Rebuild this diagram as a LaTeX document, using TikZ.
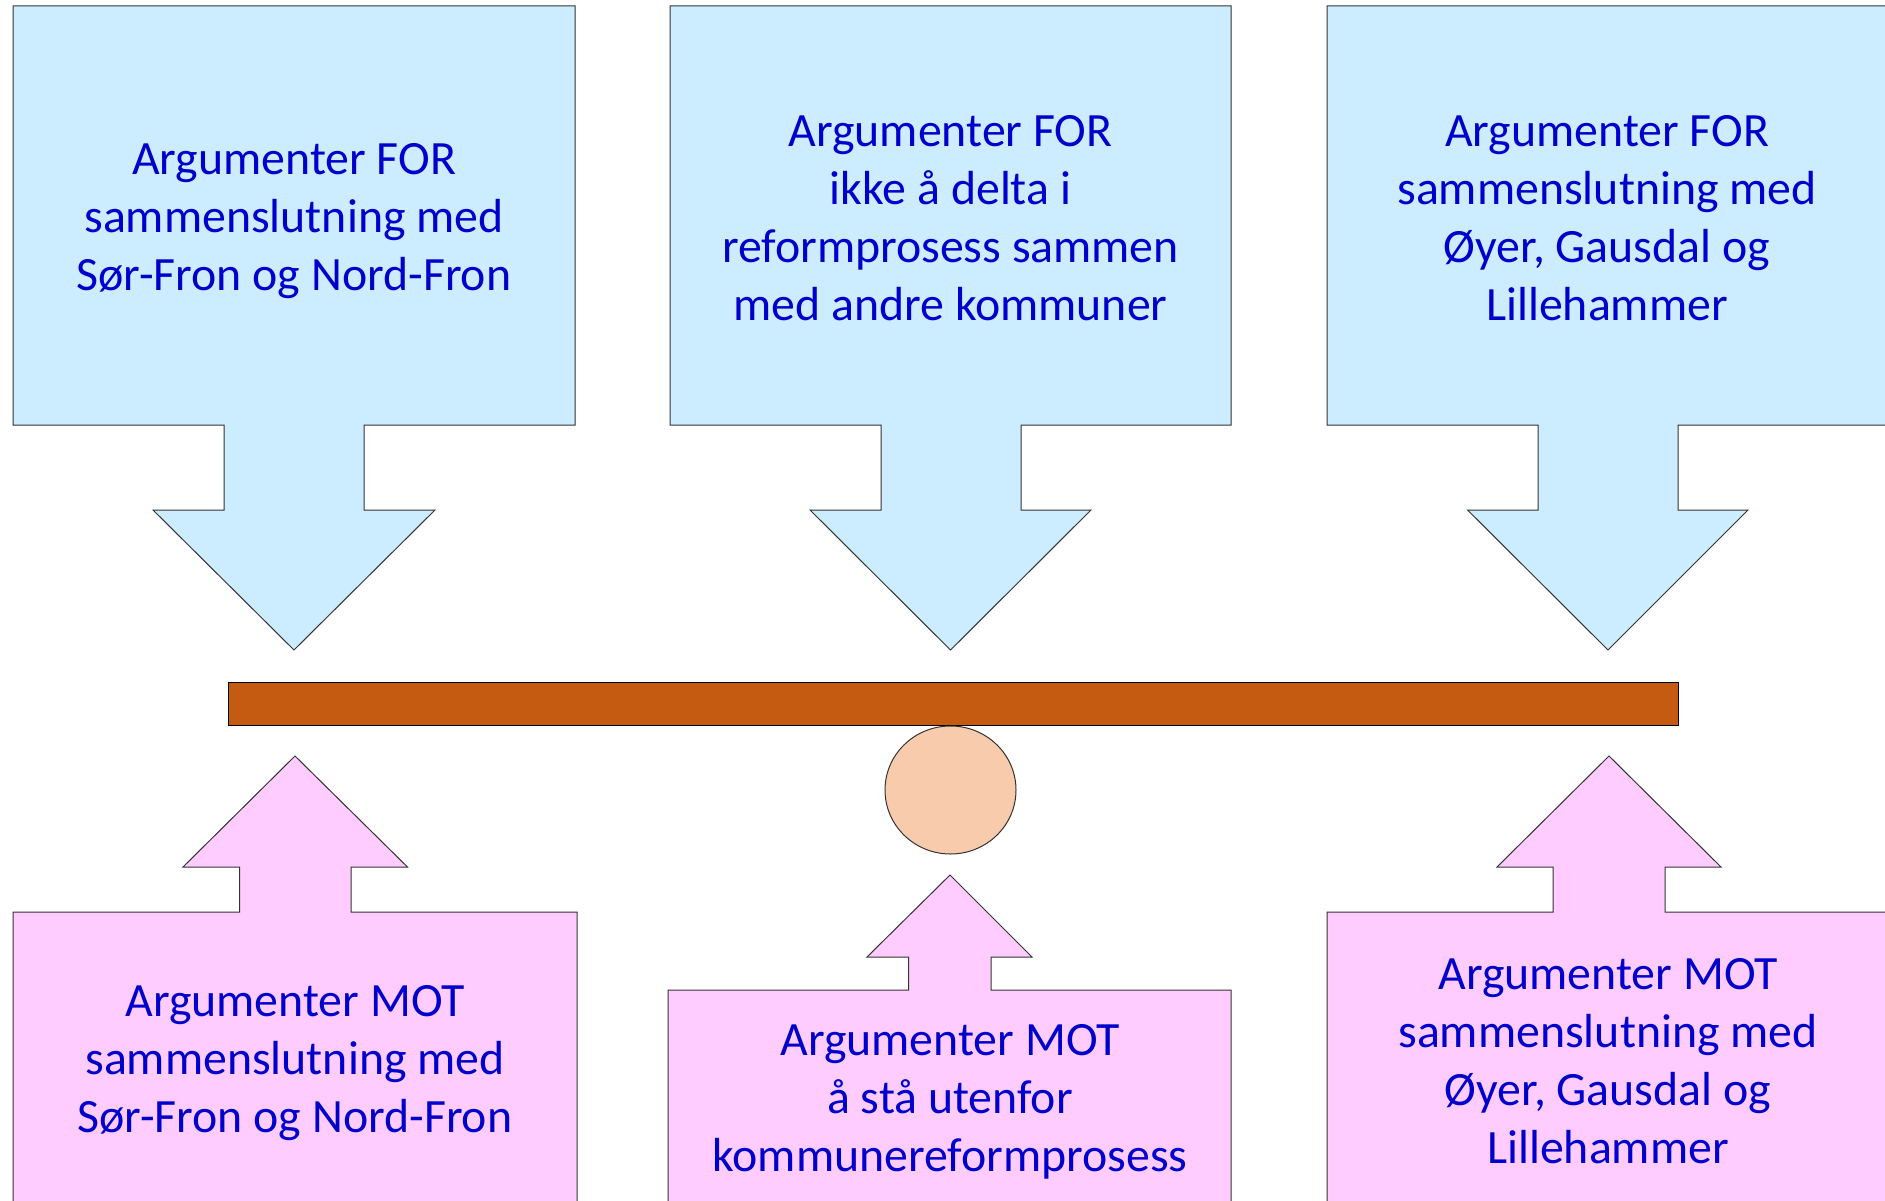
\documentclass[tikz,border=0pt]{standalone}
\usepackage{fontspec}
\setmainfont{Carlito}
\usetikzlibrary{shapes.geometric}
\definecolor{forfill}{HTML}{CCECFF}
\definecolor{motfill}{HTML}{FFCCFF}
\definecolor{barfill}{HTML}{C55A11}
\definecolor{ballfill}{HTML}{F8CBAD}
\definecolor{txt}{HTML}{0000CC}
\definecolor{edge}{HTML}{333333}
\tikzset{
  forshape/.style={fill=forfill,draw=edge,line width=1pt,line join=miter},
  motshape/.style={fill=motfill,draw=edge,line width=1pt,line join=miter},
  lbl/.style={align=center,text=txt,inner sep=0pt,font=\fontsize{47.8}{58}\selectfont}
}
\begin{document}
\begin{tikzpicture}[x=1pt,y=-1pt]
\useasboundingbox (0,0) rectangle (1885,1201);
% top callouts (FOR)
\draw[forshape] (13,6) -- (575,6) -- (575,425) -- (364,425) -- (364,510) -- (435,510) -- (294,650) -- (153,510) -- (224,510) -- (224,425) -- (13,425) -- cycle;
\draw[forshape] (670,6) -- (1231,6) -- (1231,425) -- (1021,425) -- (1021,510) -- (1091,510) -- (950.5,650) -- (810,510) -- (881,510) -- (881,425) -- (670,425) -- cycle;
\draw[forshape] (1327,6) -- (1889,6) -- (1889,425) -- (1678,425) -- (1678,510) -- (1748,510) -- (1608,650) -- (1467.5,510) -- (1538,510) -- (1538,425) -- (1327,425) -- cycle;
% bottom callouts (MOT)
\draw[motshape] (13,1210) -- (13,912) -- (239.5,912) -- (239.5,867) -- (183,867) -- (295,756) -- (407.5,867) -- (351,867) -- (351,912) -- (577,912) -- (577,1210);
\draw[motshape] (668,1210) -- (668,990) -- (908.5,990) -- (908.5,957) -- (867,957) -- (950,875) -- (1032,957) -- (991,957) -- (991,990) -- (1231,990) -- (1231,1210);
\draw[motshape] (1327,1210) -- (1327,912) -- (1553,912) -- (1553,867) -- (1497,867) -- (1609,756) -- (1721,867) -- (1665,867) -- (1665,912) -- (1889,912) -- (1889,1210);
% seesaw
\node[draw=black,fill=barfill,line width=1pt,minimum width=1450pt,minimum height=43pt,inner sep=0pt] (bar) at (953,703.5) {};
\node[draw=edge,fill=ballfill,line width=1pt,ellipse,minimum width=131pt,minimum height=128pt,inner sep=0pt] (ball) at (950.5,790) {};
% labels
\node[lbl] (t1) at (294,221) {Argumenter FOR\\sammenslutning med\\Sør-Fron og Nord-Fron};
\node[lbl] (t2) at (950.5,218.5) {Argumenter FOR\\ikke å delta i\\reformprosess sammen\\med andre kommuner};
\node[lbl] (t3) at (1607,218.5) {Argumenter FOR\\sammenslutning med\\Øyer, Gausdal og\\Lillehammer};
\node[lbl] (b1) at (295,1063.5) {Argumenter MOT\\sammenslutning med\\Sør-Fron og Nord-Fron};
\node[lbl] (b2) at (950,1102) {Argumenter MOT\\å stå utenfor\\kommunereformprosess};
\node[lbl] (b3) at (1608,1061) {Argumenter MOT\\sammenslutning med\\Øyer, Gausdal og\\Lillehammer};
\end{tikzpicture}
\end{document}
